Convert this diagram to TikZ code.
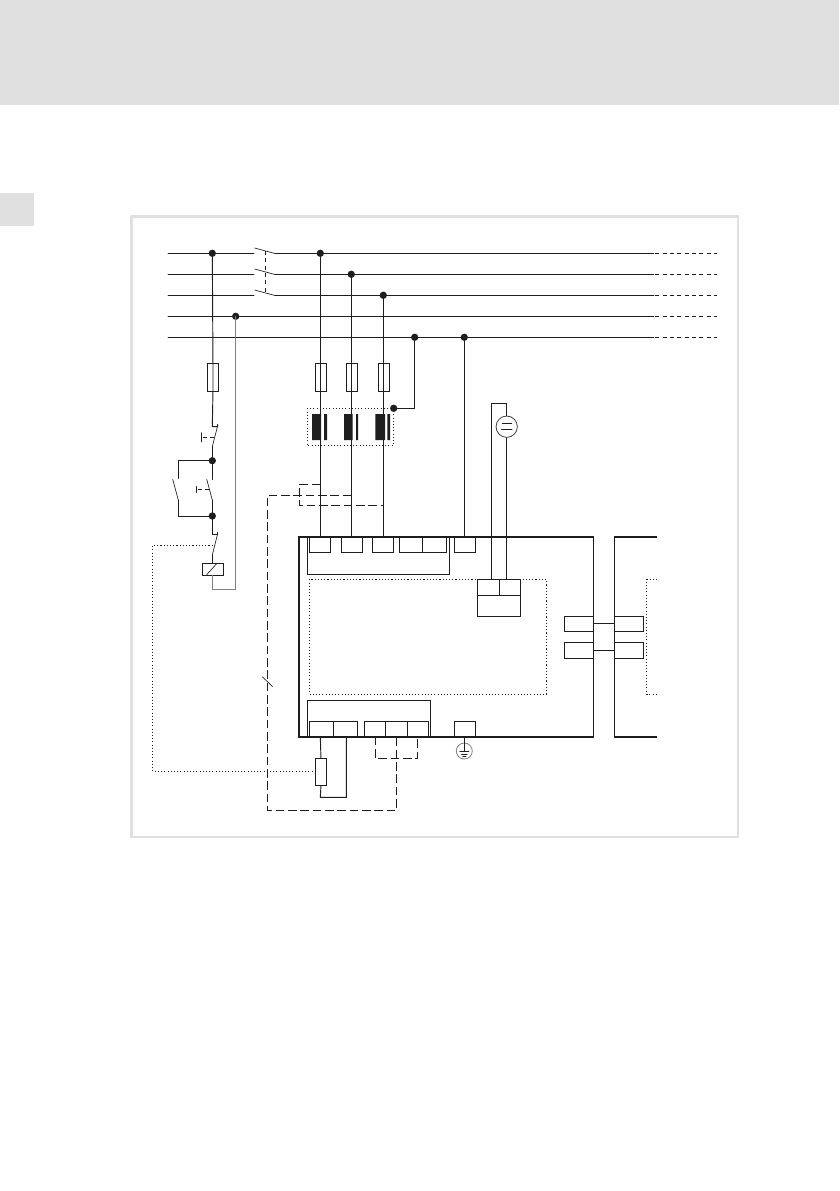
\documentclass[tikz,border=0pt]{standalone}
\definecolor{pagegray}{HTML}{E0E0E0}
\definecolor{wire}{HTML}{1E1E1E}
\definecolor{greywire}{HTML}{808080}
\tikzset{
  x=0.75pt,y=-0.75pt,
  wr/.style={draw=wire,line width=0.7pt,line cap=round,line join=miter},
  thin wr/.style={draw=wire,line width=0.5pt},
  grey wr/.style={draw=greywire,line width=0.75pt},
  heavy/.style={draw=wire,line width=1.5pt},
  dashwr/.style={draw=wire,line width=0.65pt,dash pattern=on 6.5pt off 2.75pt},
  shortdash/.style={draw=wire,line width=0.65pt,dash pattern=on 3pt off 2.5pt},
  dotwr/.style={draw=wire,line width=0.7pt,dash pattern=on 0.8pt off 1.6pt},
  dotnode/.style={circle,fill=wire,draw=none,inner sep=0pt,minimum size=5.5pt},
}
\begin{document}
\begin{tikzpicture}
\useasboundingbox (0,0) rectangle (839,1191);
\fill[white] (0,0) rectangle (839,1191);
\fill[pagegray] (0,0) rectangle (839,105);
\fill[pagegray] (0,193) rectangle (34,226.5);
\draw[pagegray,line width=2.2pt] (131.3,216.3) rectangle (738,837);
% junctions
\coordinate (b1s) at (168,253.3); \coordinate (b1a) at (254,253.3); \coordinate (b1b) at (275,253.3); \coordinate (b1e) at (654,253.3); \coordinate (b1f) at (717,253.3);
\coordinate (b2s) at (168,274.3); \coordinate (b2a) at (254,274.3); \coordinate (b2b) at (275,274.3); \coordinate (b2e) at (654,274.3); \coordinate (b2f) at (717,274.3);
\coordinate (b3s) at (168,295.3); \coordinate (b3a) at (254,295.3); \coordinate (b3b) at (275,295.3); \coordinate (b3e) at (654,295.3); \coordinate (b3f) at (717,295.3);
\coordinate (b4s) at (168,316.3); \coordinate (b4e) at (654,316.3); \coordinate (b4f) at (717,316.3);
\coordinate (b5s) at (168,337.3); \coordinate (b5e) at (654,337.3); \coordinate (b5f) at (717,337.3);
\draw[wr] (b1s)--(b1a) (b1b)--(b1e);
\draw[wr] (b2s)--(b2a) (b2b)--(b2e);
\draw[wr] (b3s)--(b3a) (b3b)--(b3e);
\draw[wr] (b4s)--(b4e);
\draw[wr] (b5s)--(b5e);
\foreach \n in {1,2,3,4,5}{\draw[shortdash] ([xshift=1pt]b\n e)--(b\n f);}
% main switch
\draw[thin wr] (254.5,248)--(275,253.5) (254.5,269)--(275,274.5) (254.5,290)--(275,295.5);
\draw[shortdash] (265.3,251)--(265.3,292);
% control branch
\node[dotnode] (d1) at (212.3,253.3) {};
\node[wr,rectangle,draw,inner sep=0pt,anchor=north west,minimum width=7.8pt,minimum height=20.5pt] (fa) at (207.3,363.3) {};
\draw[wr] (d1.center)--(fa.north) (fa.north)--(fa.south);
\draw[wr] (fa.south)--(212.3,426.7)--(217.7,426.7)--(217.7,424.3);
\draw[thin wr] (217.7,425.5)--(212.3,446.7);
\draw[shortdash] (214,437.3)--(201.7,437.3);
\draw[wr] (201.7,432.8)--(201.7,442);
\node[dotnode] (d2) at (212.3,460.7) {};
\node[dotnode] (d3) at (212.3,516) {};
\draw[wr] (212.3,446.7)--(d2.center);
\draw[wr] (d2.center)--(178.3,460.7)--(178.3,478.5);
\draw[thin wr] (172.7,479.3)--(178.3,500);
\draw[wr] (178.3,500)--(178.3,516)--(d3.center);
\draw[wr] (d2.center)--(212.3,479.3);
\draw[thin wr] (206.7,479.3)--(212.3,500);
\draw[wr] (212.3,500)--(d3.center);
\draw[shortdash] (209.3,489.7)--(196.7,489.7);
\draw[wr] (196.7,486.5)--(196.7,492.5);
\draw[wr] (d3.center)--(212.3,534.3)--(217.7,534.3)--(217.7,532.3);
\draw[thin wr] (217.7,533.5)--(212.3,555);
\node[wr,draw,rectangle,inner sep=0pt,anchor=north west,minimum width=15.75pt,minimum height=8.5pt] (coil) at (201.7,563.3) {};
\draw[wr] (212.3,555)--(212.3,563.3);
\draw[thin wr] (206.7,574.7)--(217,563.3);
\node[dotnode] (d4) at (235.7,316.3) {};
\coordinate (cb) at (212.3,589.7); \coordinate (cc) at (235.7,589.7);
\draw[grey wr] (212.3,574.7)--(cb)--(cc)--(d4.center);
\draw[dotwr] (212.7,545.3)--(152.7,545.3)--(152.7,771.3)--(314,771.3);
% fuses and contactor
\node[dotnode] (d5) at (320.3,253.3) {};
\node[dotnode] (d6) at (351.3,274.3) {};
\node[dotnode] (d7) at (383.3,295.3) {};
\node[wr,draw,rectangle,inner sep=0pt,anchor=north west,minimum width=7.8pt,minimum height=20.5pt] (fb) at (315.3,363.3) {};
\node[wr,draw,rectangle,inner sep=0pt,anchor=north west,minimum width=8.5pt,minimum height=20.5pt] (fc) at (346.0,363.3) {};
\node[wr,draw,rectangle,inner sep=0pt,anchor=north west,minimum width=7.8pt,minimum height=20.5pt] (fd) at (378.3,363.3) {};
\fill[wire] (312,414) rectangle (321,440) (324,414) rectangle (327,440);
\fill[wire] (344,414) rectangle (352.7,440) (356,414) rectangle (358,440);
\fill[wire] (375.3,414) rectangle (385,440) (387.3,414) rectangle (390,440);
\draw[wr] (d5.center)--(320.3,536.7);
\draw[wr] (d6.center)--(351.3,536.7);
\draw[wr] (d7.center)--(383.3,536.7);
\draw[dotwr] (307,408.3) rectangle (393.7,445.3);
\node[dotnode] (d8) at (393.7,408.3) {};
\node[dotnode] (d9) at (414.7,337.3) {};
\node[dotnode] (d10) at (464.3,337.3) {};
\draw[wr] (d8.center)--(414.7,408.3)--(d9.center);
\draw[wr] (d10.center)--(464.3,536.7);
% dashed shielding
\draw[dashwr] (320.3,484.3)--(299.3,484.3)--(299.3,505.3)--(383.3,505.3);
\draw[dashwr] (351.3,495.3)--(267.3,495.3)--(267.3,810)--(396.7,810)--(396.7,736.7);
\draw[thin wr] (262.3,676.7)--(272.7,686.7);
\draw[dashwr] (375.3,736.7)--(375.3,758.3)--(417.3,758.3)--(417.3,736.7);
% main box
\draw[heavy,line cap=rect] (593.3,536.7)--(299.3,536.7)--(299.3,736.7)--(593.3,736.7);
\draw[wr] (593.3,536.7)--(593.3,736.7);
\draw[heavy] (657,536.7)--(614.3,536.7);
\draw[heavy] (657,736.7)--(614.3,736.7);
\draw[wr] (614.3,536.7)--(614.3,736.7);
% top terminals
\draw[wr] (309.3,536.7) rectangle (330.3,552.3);
\draw[wr] (341.3,536.7) rectangle (362.3,552.3);
\draw[wr] (372.3,536.7) rectangle (393.3,552.3);
\draw[wr] (399.3,536.7) rectangle (422.3,552.3);
\draw[wr] (422.3,536.7) rectangle (446.3,552.3);
\draw[wr] (454.3,536.7) rectangle (475.3,552.3);
\draw[wr] (307.3,536.7) rectangle (449.3,574.3);
% dotted inner
\draw[dotwr] (309.3,579.3) rectangle (546.3,694.3);
\draw[dotwr] (657,579.3)--(646.7,579.3)--(646.7,694.3)--(657,694.3);
% inner block
\fill[white] (477.3,578) rectangle (520.3,616.3);
\draw[wr] (477.3,579.3) rectangle (520.3,616.3);
\draw[wr] (477.3,595.3)--(520.3,595.3);
\draw[wr] (499.3,579.3)--(499.3,595.3);
% DC source
\node[draw=wire!85,line width=0.6pt,fill=white,circle,inner sep=0pt,minimum size=16pt] (dc) at (506.7,426.7) {};
\draw[wr] (491.3,579.3)--(491.3,403.3)--(506.7,403.3)--(dc.north);
\draw[wr] (dc.south)--(506.7,579.3);
\draw[draw=wire,line width=1.1pt] (501.7,423.7)--(512,423.7);
\draw[wr] (501.7,429.3)--(512,429.3);
% side boxes
\draw[wr] (564.3,616.3) rectangle (593.3,631.7);
\draw[wr] (564.3,642.3) rectangle (593.3,658.3);
\draw[wr] (614.3,616.3) rectangle (643.7,631.7);
\draw[wr] (614.3,642.3) rectangle (643.7,658.3);
\draw[wr] (593.3,623.3)--(614.3,623.3);
\draw[wr] (593.3,650.3)--(614.3,650.3);
% bottom block
\draw[wr] (307.3,736.7)--(307.3,700.7)--(430.3,700.7)--(430.3,736.7);
\draw[wr] (309.3,721.3) rectangle (333.3,736.7);
\draw[wr] (333.3,721.3) rectangle (357.3,736.7);
\draw[wr] (364.3,721.3) rectangle (385.7,736.7);
\draw[wr] (385.7,721.3) rectangle (407.7,736.7);
\draw[wr] (407.7,721.3) rectangle (428.7,736.7);
\draw[wr] (454.3,721.3) rectangle (475.7,736.7);
% brake resistor
\node[wr,draw,rectangle,inner sep=0pt,anchor=north west,minimum width=7.8pt,minimum height=19.8pt] (rb) at (315.3,758.3) {};
\draw[wr] (320.3,736.7)--(rb.north);
\draw[wr] (rb.south)--(320.3,797.3)--(346.3,797.3)--(346.3,736.7);
% earth
\node[draw=greywire,line width=0.6pt,circle,inner sep=0pt,minimum size=12pt] (pe) at (464.3,751) {};
\draw[wr] (464.3,736.7)--(464.3,751.3);
\draw[wr] (459.8,751.3)--(468.8,751.3);
\draw[wr] (461.5,754)--(467.1,754);
\draw[wr] (462.8,756.5)--(465.8,756.5);
\end{tikzpicture}
\end{document}
